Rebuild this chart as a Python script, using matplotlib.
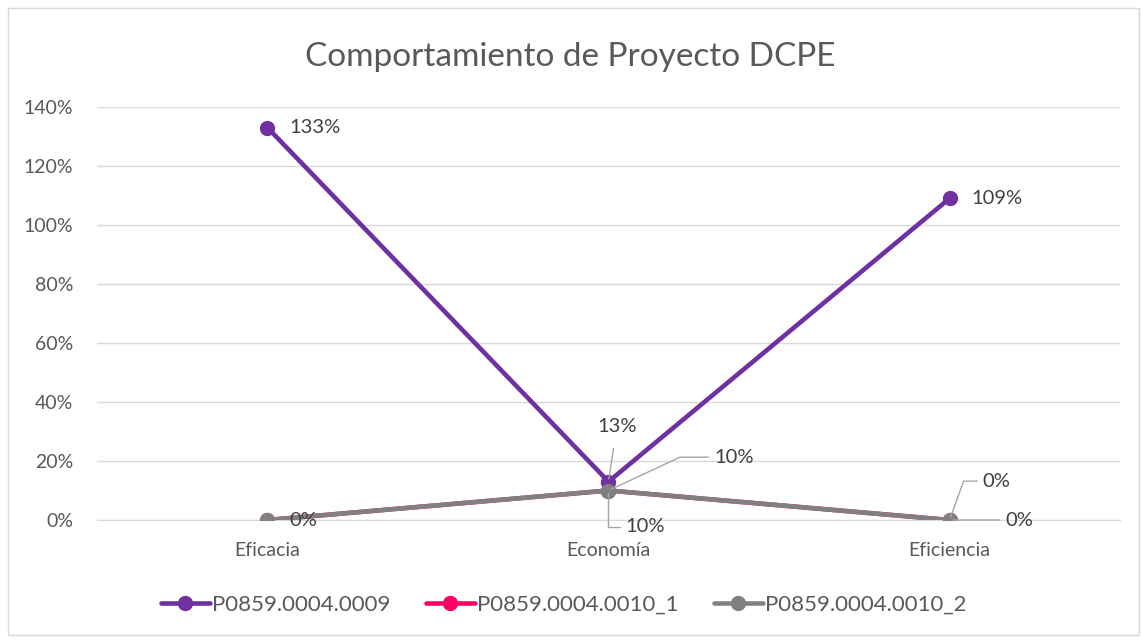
import matplotlib.pyplot as plt
from matplotlib.patches import Rectangle
from matplotlib.ticker import FuncFormatter

plt.rcParams['font.family'] = ['Lato', 'DejaVu Sans']

categorias = ['Eficacia', 'Economía', 'Eficiencia']
series = ['P0859.0004.0009', 'P0859.0004.0010_1', 'P0859.0004.0010_2']
valores_0009 = [1.33, 0.13, 1.09]
valores_0010_1 = [0.0, 0.10, 0.0]
valores_0010_2 = [0.0, 0.10, 0.0]
colores = ['#7030A0', '#FF0066', '#808080']

fig = plt.figure(figsize=(11.41, 6.40), dpi=100)
ax = fig.add_axes([0.085, 0.1875, 0.8966, 0.6453])

x = list(range(len(categorias)))
datos = [valores_0009, valores_0010_1, valores_0010_2]
for nombre, vals, c in zip(series, datos, colores):
    ax.plot(x, vals, color=c, lw=3.3, marker='o', markersize=10,
            label=nombre, solid_capstyle='round', zorder=3)

ax.set_xlim(-0.5, 2.5)
ax.set_ylim(0, 1.4)
ax.set_yticks([i * 0.2 for i in range(8)])
ax.yaxis.set_major_formatter(FuncFormatter(lambda v, p: f"{v*100:.0f}%"))
ax.set_xticks(x)
ax.set_xticklabels(categorias)
ax.grid(axis='y', color='#D9D9D9', lw=1)
ax.set_axisbelow(True)
for s in ax.spines.values():
    s.set_visible(False)
ax.spines['bottom'].set_visible(True)
ax.spines['bottom'].set_color('#D9D9D9')
ax.tick_params(length=0, labelsize=14, colors='#595959')
ax.tick_params(axis='x', pad=16)
ax.tick_params(axis='y', pad=17)

# etiquetas de datos
txt = dict(fontsize=14.5, color='#404040')
lin = dict(arrowstyle='-', color='#A6A6A6', lw=1)
ax.annotate('133%', (0, valores_0009[0]), xytext=(16, 0), textcoords='offset points',
            va='center', ha='left', **txt)
ax.annotate('109%', (2, valores_0009[2]), xytext=(16, 0), textcoords='offset points',
            va='center', ha='left', **txt)
ax.annotate('13%', (1, valores_0009[1]), xytext=(6, 40), textcoords='offset points',
            va='center', ha='center',
            arrowprops=dict(arrowstyle='-', color='#A6A6A6', lw=1, shrinkA=8), **txt)
ax.annotate('10%', (1, valores_0010_1[1]), xytext=(76, 24), textcoords='offset points',
            va='center', ha='left',
            arrowprops=dict(arrowstyle='-', color='#A6A6A6', lw=1,
                            connectionstyle='angle,angleA=0,angleB=25,rad=0'), **txt)
ax.annotate('10%', (1, valores_0010_2[1]), xytext=(12, -26), textcoords='offset points',
            va='center', ha='left',
            arrowprops=dict(arrowstyle='-', color='#A6A6A6', lw=1,
                            connectionstyle='angle,angleA=0,angleB=90,rad=0'), **txt)
ax.annotate('0%', (0, valores_0010_1[0]), xytext=(16, 0), textcoords='offset points',
            va='center', ha='left', **txt)
ax.annotate('0%', (2, valores_0010_1[2]), xytext=(24, 28), textcoords='offset points',
            va='center', ha='left',
            arrowprops=dict(arrowstyle='-', color='#A6A6A6', lw=1,
                            connectionstyle='angle,angleA=0,angleB=70,rad=0'), **txt)
ax.annotate('0%', (2, valores_0010_2[2]), xytext=(40, 0), textcoords='offset points',
            va='center', ha='left', arrowprops=lin, **txt)

fig.suptitle('Comportamiento de Proyecto DCPE', y=0.935, fontsize=24, color='#595959')

leg = fig.legend(loc='center', bbox_to_anchor=(0.494, 0.055), ncol=3, frameon=False,
                 fontsize=16, handlelength=2.2, columnspacing=1.6, handletextpad=0.1)
for t in leg.get_texts():
    t.set_color('#595959')

fig.patches.append(Rectangle((0.007, 0.008), 0.991, 0.98, transform=fig.transFigure,
                             fill=False, edgecolor='#D9D9D9', lw=1))

fig.savefig('out.png', dpi=100)
